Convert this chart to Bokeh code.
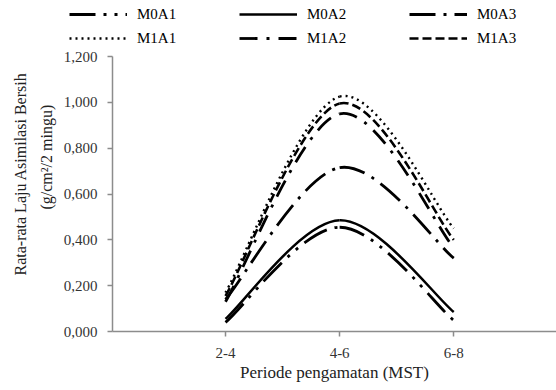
from bokeh.plotting import figure
from bokeh.layouts import column
from bokeh.models import Range1d, FixedTicker, CustomJSTickFormatter, Legend, LegendItem, ColumnDataSource, Title
from bokeh.embed import file_html
from bokeh.resources import INLINE

periods = ["2-4", "4-6", "6-8"]
m0a1 = [0.040, 0.455, 0.048]
m0a2 = [0.055, 0.485, 0.085]
m0a3 = [0.140, 0.715, 0.320]
m1a1 = [0.170, 1.025, 0.450]
m1a2 = [0.130, 0.950, 0.365]
m1a3 = [0.155, 0.995, 0.400]

names = ["M0A1", "M0A2", "M0A3", "M1A1", "M1A2", "M1A3"]
series = [m0a1, m0a2, m0a3, m1a1, m1a2, m1a3]
dashes = ["26 8 3 8 3 8", "solid", "26 8 3 8", "2 4", "18 9 3 9", "9 4"]
widths = [2.8, 2.5, 2.8, 2.4, 2.8, 2.6]

FONT = "Liberation Serif"
xs = [1, 2, 3]


def smooth_segments(ys):
    # Excel-style smoothing: cubic Bezier between consecutive points
    pts = list(zip(xs, ys))
    n = len(pts)
    segs = {"x0": [], "y0": [], "x1": [], "y1": [], "cx0": [], "cy0": [], "cx1": [], "cy1": []}
    for i in range(n - 1):
        p0 = pts[i - 1] if i > 0 else pts[i]
        p1 = pts[i]
        p2 = pts[i + 1]
        p3 = pts[i + 2] if i + 2 < n else pts[i + 1]
        segs["x0"].append(p1[0]); segs["y0"].append(p1[1])
        segs["x1"].append(p2[0]); segs["y1"].append(p2[1])
        segs["cx0"].append(p1[0] + (p2[0] - p0[0]) / 6)
        segs["cy0"].append(p1[1] + (p2[1] - p0[1]) / 6)
        segs["cx1"].append(p2[0] - (p3[0] - p1[0]) / 6)
        segs["cy1"].append(p2[1] - (p3[1] - p1[1]) / 6)
    return ColumnDataSource(segs)


# ---------- main chart ----------
p = figure(width=556, height=340, output_backend="svg", toolbar_location=None,
           x_range=Range1d(0.01, 3.9), y_range=Range1d(0, 1.2),
           min_border_left=112, min_border_right=0, min_border_top=6, min_border_bottom=59)
p.outline_line_color = None
p.xgrid.visible = False
p.ygrid.visible = False

# ---------- legend strip ----------
lg = figure(width=556, height=50, output_backend="svg", toolbar_location=None,
            x_range=Range1d(100, 101), y_range=Range1d(100, 101),
            x_axis_type=None, y_axis_type=None,
            min_border_left=0, min_border_right=0, min_border_top=0, min_border_bottom=0)
lg.outline_line_color = None
lg.xgrid.visible = False
lg.ygrid.visible = False

legend_x = 69
try:
    p.frame_align = False
    lg.frame_align = False
except Exception:
    legend_x = 69 - 112

items = []
for name, ys, d, w in zip(names, series, dashes, widths):
    src = smooth_segments(ys)
    kw = dict(x0="x0", y0="y0", x1="x1", y1="y1", cx0="cx0", cy0="cy0", cx1="cx1", cy1="cy1",
              source=src, line_color="black", line_width=w, line_dash=d)
    p.bezier(**kw)
    r = lg.bezier(**kw)
    items.append(LegendItem(label=name, renderers=[r]))

legend = Legend(items=items, ncols=3, orientation="horizontal",
                location=(legend_x, 0), glyph_width=58, glyph_height=24, label_height=24,
                label_width=102, label_standoff=10, spacing=0, padding=2, margin=0,
                border_line_color=None, background_fill_alpha=0,
                label_text_font=FONT, label_text_font_size="15px", label_text_color="black")
lg.add_layout(legend, "center")

# axes
p.xaxis.ticker = FixedTicker(ticks=xs)
p.xaxis.major_label_overrides = {i + 1: s for i, s in enumerate(periods)}
p.yaxis.ticker = FixedTicker(ticks=[0, 0.2, 0.4, 0.6, 0.8, 1.0, 1.2])
p.yaxis.formatter = CustomJSTickFormatter(code="return tick.toFixed(3).replace('.', ',');")

for ax in (p.xaxis[0], p.yaxis[0]):
    ax.axis_line_color = "#8c8c8c"
    ax.axis_line_width = 1.5
    ax.major_tick_line_color = "#8c8c8c"
    ax.major_tick_line_width = 1.5
    ax.major_tick_in = 0
    ax.major_tick_out = 5
    ax.minor_tick_line_color = None
    ax.major_label_text_font = FONT
    ax.major_label_text_font_size = "15px"
    ax.major_label_text_color = "#333333"
    ax.axis_label_text_font = FONT
    ax.axis_label_text_font_size = "17px"
    ax.axis_label_text_font_style = "normal"
    ax.axis_label_text_color = "#222222"

p.xaxis.major_label_standoff = 11
p.yaxis.major_label_standoff = 10
p.xaxis.axis_label = "Periode pengamatan (MST)"
p.xaxis.axis_label_standoff = 2

# y-axis title, two lines, shifted upward like the reference
t2 = Title(text="(g/cm\u00b2/2 mingu)", align="left", offset=122, standoff=12,
           text_font=FONT, text_font_size="16px", text_font_style="normal", text_color="#222222")
t1 = Title(text="Rata-rata Laju Asimilasi  Bersih", align="left", offset=56, standoff=1,
           text_font=FONT, text_font_size="16px", text_font_style="normal", text_color="#222222")
p.add_layout(t2, "left")
p.add_layout(t1, "left")

layout = column(lg, p, spacing=0)
open("out.html", "w").write(file_html(layout, INLINE))
